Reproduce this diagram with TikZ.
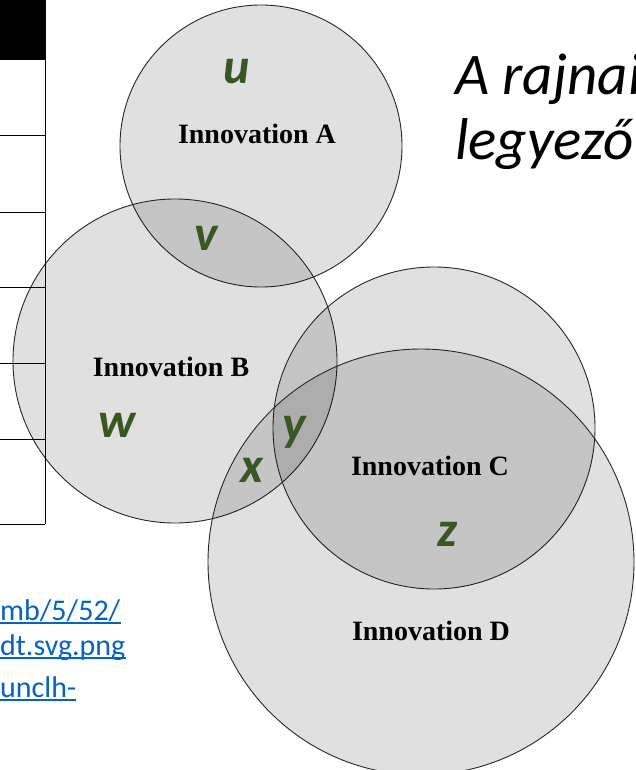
\documentclass[tikz,border=0pt]{standalone}
\usepackage{fontspec}
\setmainfont{Liberation Serif}
\newfontfamily\slidefont{Carlito}
\definecolor{lettergreen}{HTML}{385723}
\definecolor{linkblue}{HTML}{0563C1}

\begin{document}
\begin{tikzpicture}[
x=1pt,
y=-1pt,
venn/.style={
  circle,
  draw=black!85,
  line width=0.9pt,
  fill=black,
  fill opacity=0.12,
  inner sep=0pt
  },
innov/.style={
  font=\fontsize{28}{32}\selectfont\bfseries,
  inner sep=0pt
  },
letter/.style={
  font=\slidefont\fontsize{50}{54}\selectfont\bfseries\itshape,
  text=lettergreen,
  inner sep=0pt
  },
link/.style={
  font=\slidefont\fontsize{30}{36}\selectfont,
  text=linkblue,
  anchor=base west,
  inner sep=0pt
  },
slidetext/.style={
  font=\slidefont\fontsize{59}{70}\selectfont\itshape,
  anchor=base west,
  inner sep=0pt
  }
]
\useasboundingbox (0,0) rectangle (635,770);
\clip (0,0) rectangle (635,770);
% the four innovations
\node[venn, minimum size=282pt] (innA) at (261,146) {};
\node[venn, minimum size=324pt] (innB) at (175,361) {};
\node[venn, minimum size=322pt] (innC) at (434,428) {};
\node[venn, minimum size=426pt] (innD) at (421,562) {};
\node[innov] (labA) at (257,134) {Innovation A};
\node[innov] (labB) at (171,367) {Innovation B};
\node[innov] (labC) at (430,466) {Innovation C};
\node[innov] (labD) at (431,631) {Innovation D};
\foreach \lt/\lx/\ly in {u/237/72,v/206/238,w/117/425,x/252/470,y/294/432,z/447/534}
  \node[letter] (let-\lt) at (\lx,\ly) {\lt};
% table at the left edge
\fill (0,0) rectangle (45,60);
\draw[line width=1pt] (45,0) -- (45,524);
\foreach \ty in {60,136,212,287,363,439,524}
  \draw[line width=1pt] (0,\ty) -- (45,\ty);
% links
\node[link] (link1) at (0,620) {mb/5/52/};
\node[link] (link2) at (0,655) {dt.svg.png};
\node[link] (link3) at (0,697) {unclh-};
\foreach \li in {1,2,3}
  \draw[linkblue, line width=1.8pt] ([yshift=-3pt]link\li.base west) -- ([yshift=-3pt]link\li.base east);
% slide title
\node[slidetext] (title1) at (455,95) {A rajnai};
\node[slidetext] (title2) at (455,160) {legyező};
\end{tikzpicture}
\end{document}
